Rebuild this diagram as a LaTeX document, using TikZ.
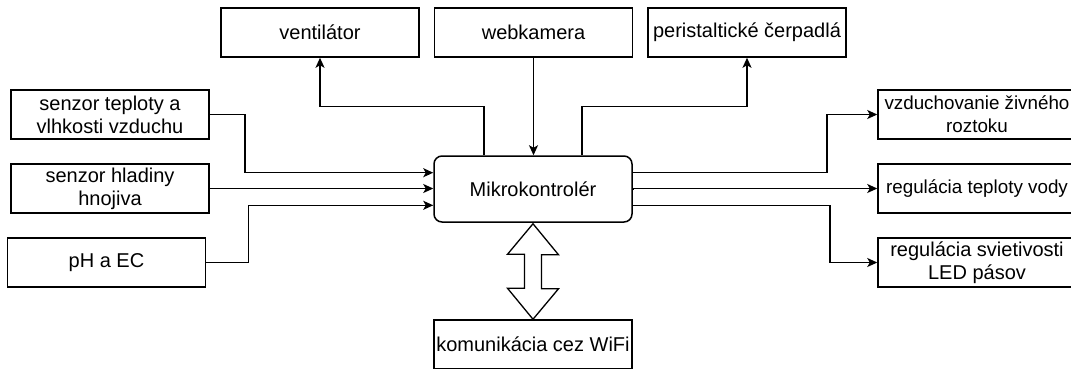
\documentclass[tikz,border=0pt]{standalone}
\usepackage{fontspec}
\setmainfont{Liberation Sans}
\usetikzlibrary{arrows.meta,calc}
\begin{document}
\begin{tikzpicture}[x=1pt,y=-1pt,
  box/.style={draw,line width=1.5pt,minimum width=198pt,minimum height=49pt,inner sep=0pt,align=center,
    font=\fontsize{20}{23}\selectfont},
  narrowtext/.style={font=\fontsize{18.8}{23}\selectfont},
  mcu/.style={box,minimum height=66pt,rounded corners=8pt},
  conn/.style={line width=1.5pt},
  arr/.style={conn,-{Stealth[length=10pt,width=9pt,inset=2.5pt]}}]
\useasboundingbox (0,0) rectangle (1071,368);
\clip (0,0) rectangle (1071,368);
\fill[white] (0,0) rectangle (1071,368);
% nodes
\node[box] (v) at (320,32.5) {ventilátor};
\node[box] (w) at (533.5,32.5) {webkamera};
\node[box] (pc) at (747,32.5) {peristaltické čerpadlá};
\node[box] (s1) at (110,114.5) {senzor teploty a\\vlhkosti vzduchu};
\node[box] (s2) at (110,188.5) {senzor hladiny\\hnojiva};
\node[box] (ph) at (106.5,262.5) {pH a EC};
\node[mcu] (m) at (533,189) {Mikrokontrolér};
\node[box] (wf) at (533,344.5) {komunikácia cez WiFi};
\node[box,narrowtext] (r1) at (977,114.5) {vzduchovanie živného\\roztoku};
\node[box,narrowtext] (r2) at (977,188.5) {regulácia teploty vody};
\node[box] (r3) at (977,262.5) {regulácia svietivosti\\LED pásov};
% inputs
\draw[arr] (s1.east) -- ++(35,0) |- ($(m.west)+(0,-16.3)$);
\draw[arr] (s2.east) -- (s2.east -| m.west);
\draw[arr] (ph.east) -- ++(42,0) |- ($(m.west)+(0,16.3)$);
% top
\draw[arr] ($(m.north)+(-49,0)$) -- ++(0,-49) -| (v.south);
\draw[arr] (w.south) -- (w.south |- m.north);
\draw[arr] ($(m.north)+(49,0)$) -- ++(0,-49) -| (pc.south);
% outputs
\draw[arr] ($(m.east)+(0,-16.3)$) -- ++(194,0) |- (r1.west);
\draw[arr] (m.east) -- (m.east |- r2.west) -- (r2.west);
\draw[arr] ($(m.east)+(0,16.3)$) -- ++(197,0) |- (r3.west);
% double block arrow
\draw[line width=1.3pt,line join=miter,fill=white]
  ($(m.south)+(0,1)$) -- ++(25.5,31) -- ++(-17,0) -- ++(0,34) -- ++(17,0)
  -- (wf.north) -- ++(-25.5,-31) -- ++(17,0) -- ++(0,-34) -- ++(-17,0) -- cycle;
\end{tikzpicture}
\end{document}
